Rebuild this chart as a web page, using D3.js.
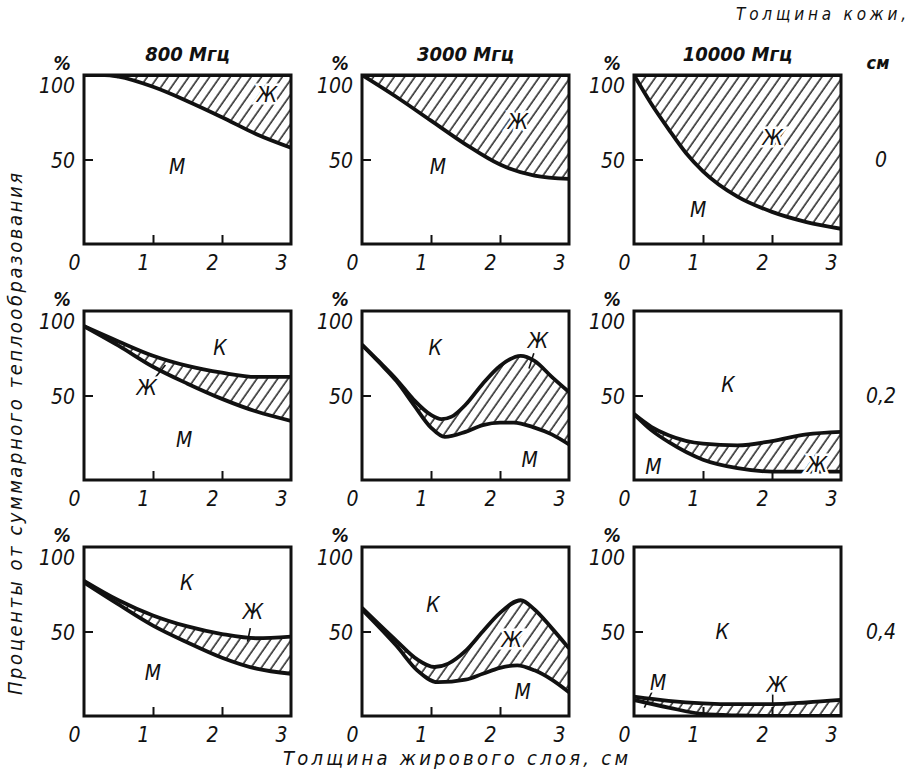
<!DOCTYPE html>
<html lang="ru">
<head>
<meta charset="UTF-8">
<title>Теплообразование в коже, жире и мышцах</title>
<script src="https://cdnjs.cloudflare.com/ajax/libs/d3/7.8.5/d3.min.js"></script>
<style>
  body { margin: 0; background: #fff; }
  svg text {
    font-family: "Liberation Sans Narrow", "DejaVu Sans Condensed", sans-serif;
    font-style: italic;
    fill: #111;
  }
</style>
</head>
<body>
<svg id="chart" width="918" height="773"></svg>
<script>
// частоты (столбцы) и толщина кожи (строки)
const freqs = ["800 Мгц", "3000 Мгц", "10000 Мгц"];
const skins = ["0", "0,2", "0,4"];
const xTicks = [0, 1, 2, 3];
const yTicks = [50, 100];

// [толщина жира, см ; %] — граница К/Ж (верх) и Ж/М (низ)
// кожа 0 см: верхняя граница = 100 %
const full = [[0, 100], [3, 100]];
const fm_0_800   = [[0, 100], [0.3, 100], [0.5, 99], [1, 93], [1.5, 84.5], [2, 75], [2.5, 65], [3, 57]];
const fm_0_3000  = [[0, 100], [0.5, 87], [1, 73], [1.5, 59], [2, 47], [2.5, 40.5], [3, 38.5]];
const fm_0_10000 = [[0, 100], [0.25, 83], [0.5, 68], [0.75, 54], [1, 43], [1.5, 28], [2, 19], [2.5, 13], [3, 9]];

// кожа 0,2 см
const kf_02_800   = [[0, 91], [0.5, 82], [1, 73.5], [1.5, 67.5], [2, 63.5], [2.5, 61], [3, 61]];
const fm_02_800   = [[0, 91], [0.5, 79.5], [1, 67], [1.5, 57], [2, 48], [2.5, 40.5], [3, 35]];
const kf_02_3000  = [[0, 80], [0.25, 70], [0.5, 59.5], [0.75, 47.5], [1, 38.5], [1.15, 36], [1.3, 37.5], [1.5, 44.5], [1.75, 57], [2, 67.5], [2.3, 73.5], [2.5, 70.5], [2.75, 61], [3, 52]];
const fm_02_3000  = [[0, 80], [0.25, 69.5], [0.5, 58.5], [0.75, 44.5], [1, 31], [1.2, 25.5], [1.5, 28.5], [1.75, 32.5], [2, 34], [2.2, 34], [2.5, 31], [2.75, 27], [3, 21]];
const kf_02_10000 = [[0, 39], [0.25, 31.5], [0.5, 26.5], [1, 21.5], [1.5, 20.5], [2, 23], [2.5, 27], [3, 28.5]];
const fm_02_10000 = [[0, 39], [0.25, 29.5], [0.5, 22.5], [1, 12], [1.5, 7], [2, 5], [2.5, 5], [3, 5]];

// кожа 0,4 см
const kf_04_800   = [[0, 80], [0.5, 68.5], [1, 59.5], [1.5, 53], [2, 48.5], [2.5, 46], [3, 47]];
const fm_04_800   = [[0, 79], [0.5, 66], [1, 53.5], [1.5, 43.5], [2, 34.5], [2.5, 28], [3, 25]];
const kf_04_3000  = [[0, 64], [0.5, 44.5], [0.8, 33.5], [1.05, 29], [1.25, 31], [1.5, 38.5], [1.75, 50], [2, 61], [2.3, 68.5], [2.5, 63], [2.75, 52], [3, 40]];
const fm_04_3000  = [[0, 63], [0.5, 41.5], [0.8, 27], [1.1, 20], [1.5, 21.5], [1.75, 25], [2, 28.5], [2.25, 30], [2.5, 27], [2.75, 21.5], [3, 14]];
const kf_04_10000 = [[0, 11.5], [0.5, 9], [1, 7.5], [1.5, 7], [2, 7], [2.5, 8], [3, 9.5]];
const fm_04_10000 = [[0, 9.5], [0.5, 5], [1, 1.2], [1.5, 0.3], [2, 0], [3, 0]];

// подписи областей: буква, x (см), % ; leaders — черточки-выноски
const panels = [
  { row: 0, col: 0, top: full, low: fm_0_800, labels: [["Ж", 2.65, 88], ["М", 1.35, 45.5]] },
  { row: 0, col: 1, top: full, low: fm_0_3000, labels: [["Ж", 2.26, 72], ["М", 1.1, 45.5]] },
  { row: 0, col: 2, top: full, low: fm_0_10000, labels: [["Ж", 2.01, 63], ["М", 0.93, 20]] },
  { row: 1, col: 0, top: kf_02_800, low: fm_02_800,
    labels: [["К", 1.97, 78], ["Ж", 0.91, 54.5], ["М", 1.45, 23.7]], leaders: [[1.0, 59, 1.18, 68]] },
  { row: 1, col: 1, top: kf_02_3000, low: fm_02_3000,
    labels: [["К", 1.06, 78], ["Ж", 2.55, 82.5], ["М", 2.43, 11.8]], leaders: [[2.49, 75, 2.42, 66]] },
  { row: 1, col: 2, top: kf_02_10000, low: fm_02_10000,
    labels: [["К", 1.36, 56], ["М", 0.28, 7.7], ["Ж", 2.65, 8.9]] },
  { row: 2, col: 0, top: kf_04_800, low: fm_04_800,
    labels: [["К", 1.49, 78.7], ["Ж", 2.45, 61.5], ["М", 1.0, 25.4]], leaders: [[2.41, 52, 2.37, 44]] },
  { row: 2, col: 1, top: kf_04_3000, low: fm_04_3000,
    labels: [["К", 1.03, 65.7], ["Ж", 2.17, 45], ["М", 2.33, 14.2]] },
  { row: 2, col: 2, top: kf_04_10000, low: fm_04_10000,
    labels: [["К", 1.28, 49.7], ["М", 0.35, 19.5], ["Ж", 2.07, 18.3]],
    leaders: [[0.26, 14.2, 0.15, 5], [2.01, 13.6, 2.01, 7.5]] }
];

const svg = d3.select("#chart");
const colLeft = [84, 362, 634], rowTop = [75, 311, 547];
const pw = 207, ph = 169;

const x = d3.scaleLinear().domain([0, 3]).range([0, pw]);
const y = d3.scaleLinear().domain([0, 100]).range([ph, 0]);

const line = d3.line().x(d => x(d[0])).y(d => y(d[1])).curve(d3.curveMonotoneX);
// область над кривой и под кривой (для штриховки между ними)
const aboveArea = d3.area().x(d => x(d[0])).y0(-10).y1(d => y(d[1])).curve(d3.curveMonotoneX);
const belowArea = d3.area().x(d => x(d[0])).y0(ph + 10).y1(d => y(d[1])).curve(d3.curveMonotoneX);

// штриховка жира
const defs = svg.append("defs");
defs.append("pattern")
  .attr("id", "hatch")
  .attr("patternUnits", "userSpaceOnUse")
  .attr("width", 8.5).attr("height", 40)
  .attr("patternTransform", "rotate(35)")
  .append("line")
  .attr("x1", 2).attr("y1", 0).attr("x2", 2).attr("y2", 40)
  .attr("stroke", "#111").attr("stroke-width", 1.4);

defs.append("clipPath").attr("id", "box")
  .append("rect").attr("width", pw).attr("height", ph);

panels.forEach(p => {
  const g = svg.append("g").attr("transform", `translate(${colLeft[p.col]},${rowTop[p.row]})`);
  const body = g.append("g").attr("clip-path", "url(#box)");

  // Ж: под верхней кривой и над нижней
  const cid = `above${p.row}${p.col}`;
  defs.append("clipPath").attr("id", cid)
    .append("path").attr("d", aboveArea(p.low));
  body.append("g").attr("clip-path", `url(#${cid})`)
    .append("path").attr("d", belowArea(p.top))
    .attr("fill", "url(#hatch)");

  body.append("path").attr("d", line(p.top)).attr("fill", "none")
    .attr("stroke", "#111").attr("stroke-width", 3.8);
  body.append("path").attr("d", line(p.low)).attr("fill", "none")
    .attr("stroke", "#111").attr("stroke-width", 3.8);

  (p.leaders || []).forEach(l => {
    g.append("line")
      .attr("x1", x(l[0])).attr("y1", y(l[1]))
      .attr("x2", x(l[2])).attr("y2", y(l[3]))
      .attr("stroke", "#111").attr("stroke-width", 1.6);
  });

  g.selectAll("text.lab")
    .data(p.labels)
    .join("text")
    .attr("class", "lab")
    .attr("x", d => x(d[1]))
    .attr("y", d => y(d[2]))
    .attr("text-anchor", "middle")
    .attr("dominant-baseline", "central")
    .attr("font-size", 21)
    .attr("stroke", "#fff").attr("stroke-width", 5)
    .attr("paint-order", "stroke")
    .text(d => d[0]);

  // рамка
  g.append("rect").attr("width", pw).attr("height", ph)
    .attr("fill", "none").attr("stroke", "#111").attr("stroke-width", 3);

  // оси
  const ax = g.append("g").attr("transform", `translate(0,${ph})`)
    .call(d3.axisBottom(x).tickValues(xTicks).tickSize(-9).tickPadding(11).tickFormat(d3.format("d")));
  ax.select(".domain").remove();
  ax.selectAll(".tick line").attr("stroke", "#111").attr("stroke-width", 2)
    .filter(d => d === 0 || d === 3).remove();
  ax.selectAll(".tick text").attr("font-size", 21).attr("dx", -10).attr("fill", "#111");

  const ay = g.append("g")
    .call(d3.axisLeft(y).tickValues(yTicks).tickSize(-9).tickPadding(9).tickFormat(d3.format("d")));
  ay.select(".domain").remove();
  ay.selectAll(".tick line").attr("stroke", "#111").attr("stroke-width", 2)
    .filter(d => d === 100).remove();
  ay.selectAll(".tick text").attr("font-size", 21).attr("fill", "#111")
    .attr("dy", d => d === 100 ? "0.85em" : "0.4em");

  g.append("text").attr("x", -22).attr("y", -12)
    .attr("text-anchor", "middle").attr("dominant-baseline", "central")
    .attr("font-size", 19).attr("font-weight", "bold").text("%");

  if (p.row === 0) {
    g.append("text").attr("x", pw / 2).attr("y", -21)
      .attr("text-anchor", "middle").attr("dominant-baseline", "central")
      .attr("font-size", 20).attr("font-weight", "bold").text(freqs[p.col]);
  }
  if (p.col === 2) {
    g.append("text").attr("x", pw + 40).attr("y", y(50))
      .attr("text-anchor", "middle").attr("dominant-baseline", "central")
      .attr("font-size", 21).text(skins[p.row]);
  }
});

// общие подписи
svg.append("text").attr("x", 906).attr("y", 14)
  .attr("text-anchor", "end").attr("dominant-baseline", "central")
  .attr("font-size", 17).attr("textLength", 170).attr("lengthAdjust", "spacing")
  .text("Толщина кожи,");
svg.append("text").attr("x", 878).attr("y", 62)
  .attr("text-anchor", "middle").attr("dominant-baseline", "central")
  .attr("font-size", 18).attr("font-weight", "bold").text("см");

svg.append("text").attr("x", 283).attr("y", 758)
  .attr("dominant-baseline", "central")
  .attr("font-size", 20).attr("textLength", 345).attr("lengthAdjust", "spacing")
  .text("Толщина жирового слоя, см");

svg.append("text")
  .attr("transform", "translate(15,695) rotate(-90)")
  .attr("dominant-baseline", "central")
  .attr("font-size", 20).attr("textLength", 522).attr("lengthAdjust", "spacing")
  .text("Проценты от суммарного теплообразования");
</script>
</body>
</html>
